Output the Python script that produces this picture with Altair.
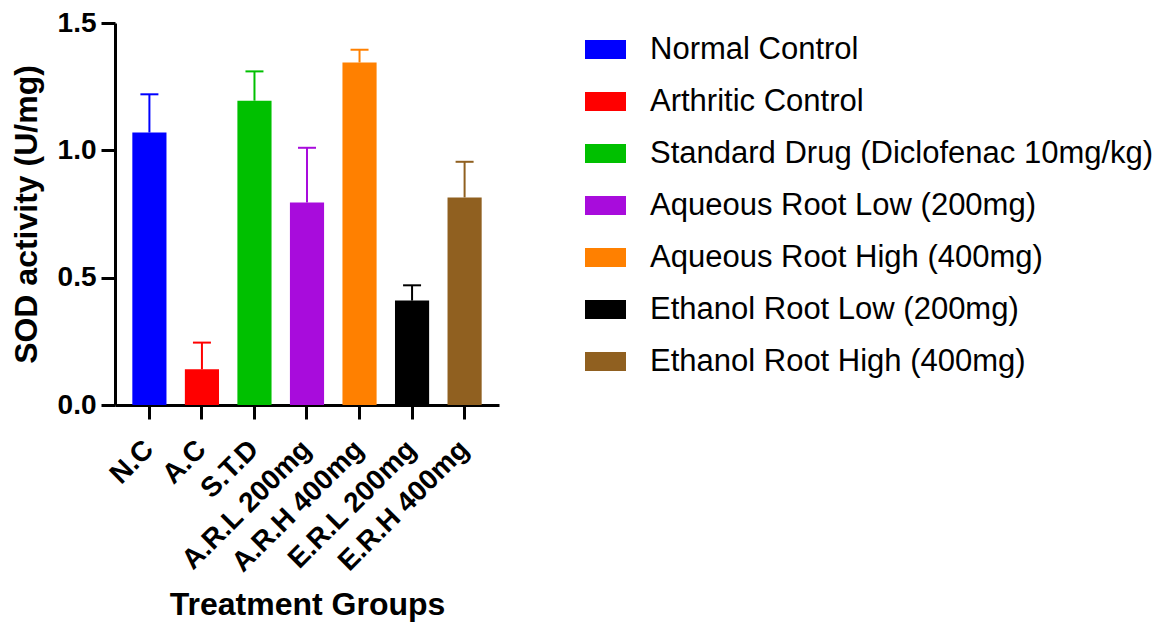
import altair as alt
import pandas as pd

groups = ["N.C", "A.C", "S.T.D", "A.R.L 200mg", "A.R.H 400mg", "E.R.L 200mg", "E.R.H 400mg"]
names = ["Normal Control", "Arthritic Control", "Standard Drug (Diclofenac 10mg/kg)",
         "Aqueous Root Low (200mg)", "Aqueous Root High (400mg)",
         "Ethanol Root Low (200mg)", "Ethanol Root High (400mg)"]
means = [1.07, 0.14, 1.195, 0.795, 1.345, 0.41, 0.815]
sems = [0.15, 0.105, 0.115, 0.215, 0.05, 0.06, 0.14]
colors = ["#0000FF", "#FF0000", "#00C000", "#A80CDC", "#FF8000", "#000000", "#906020"]

df = pd.DataFrame({"group": groups, "name": names, "mean": means, "sem": sems})
df["upper"] = df["mean"] + df["sem"]

FONT = "Liberation Sans"

x = alt.X("group:N", sort=groups,
          scale=alt.Scale(paddingInner=0.35, paddingOuter=0.33),
          axis=alt.Axis(title="Treatment Groups", labelAngle=-45, labelFontSize=28,
                        labelFontWeight="bold", labelFont=FONT, labelColor="black",
                        titleFontSize=32, titleFont=FONT, titleFontWeight="bold", titleColor="black",
                        titlePadding=12, labelPadding=26,
                        domainColor="black", domainWidth=3, tickColor="black", tickWidth=3, tickSize=14))
color = alt.Color("name:N", sort=names, scale=alt.Scale(domain=names, range=colors),
                  legend=alt.Legend(title=None, orient="none", legendX=470, legendY=6,
                                    symbolType="M-1,-0.46H1V0.46H-1Z", symbolSize=1681,
                                    symbolStrokeWidth=0, symbolOpacity=1,
                                    labelFontSize=31, labelFont=FONT, labelColor="black",
                                    labelOffset=24, rowPadding=16, padding=0, labelLimit=700))

bars = alt.Chart(df).mark_bar(opacity=1).encode(
    x=x,
    y=alt.Y("mean:Q", scale=alt.Scale(domain=[0, 1.5], nice=False),
            axis=alt.Axis(title="SOD activity (U/mg)", values=[0, 0.5, 1.0, 1.5], format=".1f",
                          grid=False, labelFontSize=28, labelFontWeight="bold", labelFont=FONT,
                          labelColor="black", titleFontSize=32, titleFont=FONT,
                          titleFontWeight="bold", titleColor="black", titlePadding=14,
                          labelPadding=5, domainColor="black", domainWidth=3,
                          tickColor="black", tickWidth=3, tickSize=14)),
    color=color,
)

rules = alt.Chart(df).mark_rule(strokeWidth=2).encode(
    x=alt.X("group:N", sort=groups), y="mean:Q", y2="upper:Q", color=color)

caps = alt.Chart(df).mark_tick(thickness=2, size=18, opacity=1).encode(
    x=alt.X("group:N", sort=groups), y="upper:Q", color=color)

chart = alt.layer(rules, bars, caps).properties(
    width=384, height=382,
    autosize=alt.AutoSizeParams(type="none"),
    padding={"left": 107, "top": 15, "right": 662, "bottom": 225},
).configure_view(stroke=None)

chart.save("out.html", embed_options={"renderer": "svg", "actions": False})
